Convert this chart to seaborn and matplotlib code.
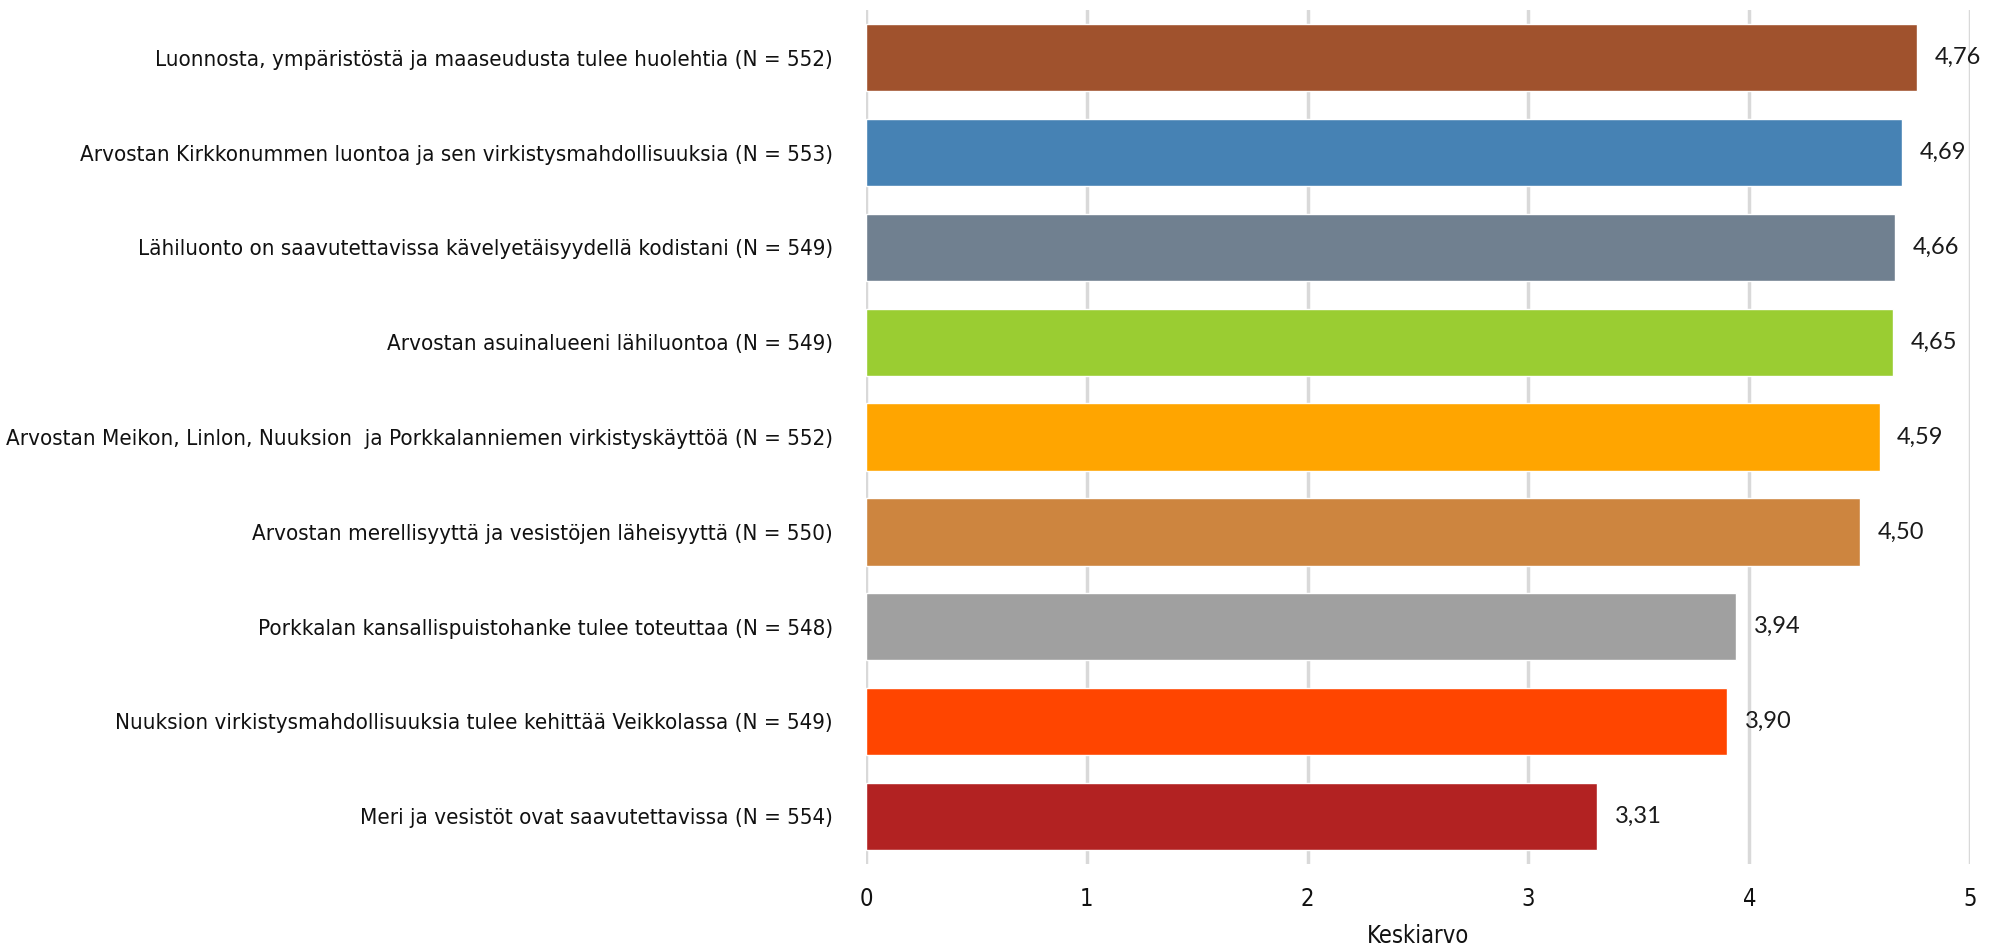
import pandas as pd
import matplotlib
matplotlib.use('Agg')
import matplotlib.pyplot as plt
import seaborn as sns

# data
labels = [
    'Luonnosta, ympäristöstä ja maaseudusta tulee huolehtia (N = 552)',
    'Arvostan Kirkkonummen luontoa ja sen virkistysmahdollisuuksia (N = 553)',
    'Lähiluonto on saavutettavissa kävelyetäisyydellä kodistani (N = 549)',
    'Arvostan asuinalueeni lähiluontoa (N = 549)',
    'Arvostan Meikon, Linlon, Nuuksion  ja Porkkalanniemen virkistyskäyttöä (N = 552)',
    'Arvostan merellisyyttä ja vesistöjen läheisyyttä (N = 550)',
    'Porkkalan kansallispuistohanke tulee toteuttaa (N = 548)',
    'Nuuksion virkistysmahdollisuuksia tulee kehittää Veikkolassa (N = 549)',
    'Meri ja vesistöt ovat saavutettavissa (N = 554)',
]
means = [4.76, 4.69, 4.66, 4.65, 4.59, 4.50, 3.94, 3.90, 3.31]
colors = ['#A0522D', '#4682B4', '#708090', '#9ACD32', '#FFA500',
          '#CD853F', '#A0A0A0', '#FF4500', '#B22222']

df = pd.DataFrame({'label': labels, 'mean': means})

sns.set_style('white')
plt.rcParams['font.family'] = ['DejaVu Sans']
plt.rcParams['font.stretch'] = 'condensed'

fig = plt.figure(figsize=(20.07, 9.47), dpi=100)
ax = fig.add_axes([0.4315, 0.088, 0.5501, 0.901])

sns.barplot(data=df, x='mean', y='label', hue='label', palette=colors,
            width=0.71, legend=False, ax=ax, saturation=1)

ax.set_xlim(0, 5)
ax.set_ylim(8.5, -0.5)
ax.set_xticks(range(6))
ax.grid(axis='x', color='#D9D9D9', linewidth=2.5)
ax.set_axisbelow(True)
for s in ax.spines.values():
    s.set_visible(False)
ax.tick_params(axis='y', length=0, pad=24, labelsize=16, labelcolor='#111111')
ax.tick_params(axis='x', length=0, pad=17, labelsize=17, labelcolor='#111111')
ax.set_ylabel('')
ax.set_xlabel('Keskiarvo', fontsize=17, labelpad=9, color='#111111')

# value labels with decimal comma
for i, v in enumerate(means):
    ax.text(v + 0.08, i, f'{v:.2f}'.replace('.', ','), va='center', ha='left',
            fontsize=17, family=['Lato', 'DejaVu Sans'], stretch='normal',
            color='#1a1a1a')

fig.savefig('out.png', dpi=100)
